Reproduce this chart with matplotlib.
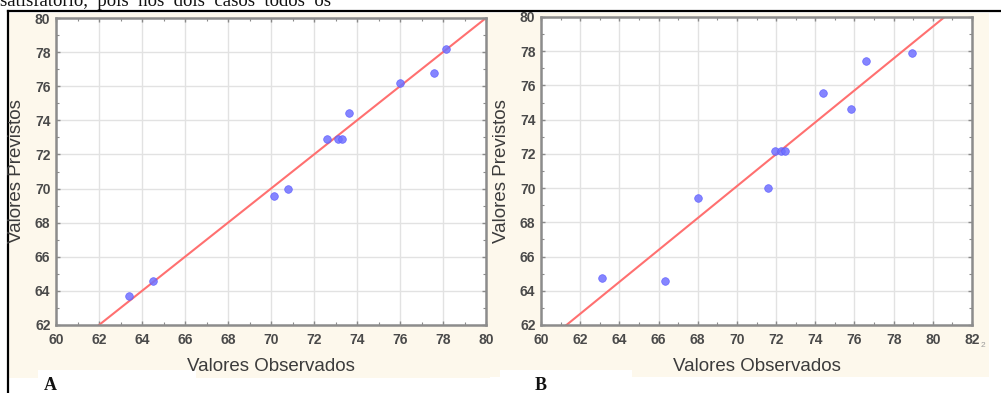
import matplotlib
matplotlib.use('Agg')
from matplotlib import pyplot as plt
from matplotlib.patches import Rectangle
from matplotlib.lines import Line2D
from matplotlib.ticker import MultipleLocator

W, H = 1001, 393

# panel A: observed vs predicted
obs_a = [63.4, 64.5, 70.15, 70.8, 72.6, 73.1, 73.3, 73.65, 76.0, 77.6, 78.15]
pred_a = [63.7, 64.6, 69.55, 70.0, 72.9, 72.9, 72.9, 74.45, 76.2, 76.8, 78.2]
fit_a_x = [62, 80]
fit_a_y = [62, 80]

# panel B
obs_b = [63.1, 66.35, 68.0, 71.6, 71.95, 72.25, 72.45, 74.4, 75.8, 76.6, 78.95]
pred_b = [64.75, 64.6, 69.4, 70.0, 72.15, 72.15, 72.15, 75.55, 74.65, 77.45, 77.9]
fit_b_x = [61.3, 80.6]
fit_b_y = [62, 80]

xlims = [(60, 80), (60, 82)]
ylim = (62, 80)
panel_labels = ['A', 'B']
xlabel = 'Valores Observados'
ylabel = 'Valores Previstos'
top_text = 'satisfatório,  pois  nos  dois  casos  todos  os'

BEIGE = '#fdf8ec'
TXT = '#3c3c3c'


def fx(x):
    return x / W


def fy(y):
    return 1 - y / H


def rect(fig, x0, y0, x1, y1, color):
    fig.add_artist(Rectangle((fx(x0), fy(y1)), fx(x1 - x0), (y1 - y0) / H,
                             transform=fig.transFigure, facecolor=color,
                             edgecolor='none', zorder=0))


fig = plt.figure(figsize=(W / 100, H / 100), dpi=100)
fig.patch.set_facecolor('white')

# scanned page backgrounds
rect(fig, 8, 13, 490, 378, BEIGE)
rect(fig, 490, 13, 989, 377, BEIGE)
rect(fig, 38, 370, 196, 393, 'white')
rect(fig, 500, 370, 632, 393, 'white')

# page rules
fig.add_artist(Line2D([fx(8), 1], [fy(11), fy(11)], color='black', lw=1.6,
                      transform=fig.transFigure))
fig.add_artist(Line2D([fx(7.5), fx(7.5)], [fy(11), 0], color='black', lw=1.6,
                      transform=fig.transFigure))

fig.text(0, fy(6), top_text, fontsize=13.5, family='Liberation Serif',
         va='baseline', ha='left', color='#111111')

boxes = [(56, 18, 486, 325), (541, 17, 972, 325)]
data = [(obs_a, pred_a, fit_a_x, fit_a_y), (obs_b, pred_b, fit_b_x, fit_b_y)]
ylabel_x = [17, 501]
plabel_x = [44, 535]

for i in range(2):
    x0, y0, x1, y1 = boxes[i]
    ax = fig.add_axes([fx(x0), fy(y1), fx(x1 - x0), (y1 - y0) / H])
    obs, pred, lx, ly = data[i]
    ax.plot(lx, ly, color='#ff7070', lw=1.5, zorder=2)
    ax.plot(obs, pred, 'o', color='#7070ff', ms=5.5, alpha=0.85, mec='#5a5aff',
            mew=0.5, zorder=3)
    ax.set_xlim(*xlims[i])
    ax.set_ylim(*ylim)
    ax.xaxis.set_major_locator(MultipleLocator(2))
    ax.yaxis.set_major_locator(MultipleLocator(2))
    ax.xaxis.set_minor_locator(MultipleLocator(1))
    ax.yaxis.set_minor_locator(MultipleLocator(1))
    ax.grid(True, which='major', color='#e2e2e2', lw=1)
    ax.set_axisbelow(True)
    ax.tick_params(which='both', direction='in', top=True, right=True,
                   color='#8a8a8a', labelsize=10, labelcolor='#4a4a4a')
    ax.tick_params(which='major', length=3, width=1)
    ax.tick_params(which='minor', length=2, width=0.8)
    ax.tick_params(axis='x', pad=6)
    ax.tick_params(axis='y', pad=4)
    for lab in ax.get_xticklabels() + ax.get_yticklabels():
        lab.set_family('Liberation Sans')
        lab.set_weight('bold')
    for sp in ax.spines.values():
        sp.set_color('#8c8c8c')
        sp.set_linewidth(1.8)
    ax.set_xlabel(xlabel, fontsize=13.5, color=TXT, family='Liberation Sans',
                  labelpad=8)
    fig.text(fx(ylabel_x[i]), fy(171), ylabel, rotation=90,
             fontsize=13.5, color=TXT, family='Liberation Sans',
             ha='center', va='center')
    fig.text(fx(plabel_x[i]), fy(390), panel_labels[i], fontsize=13,
             family='Liberation Serif', weight='bold', color='#111111',
             ha='left', va='baseline')

# small scan artefact next to the last tick of panel B
fig.text(fx(981), fy(347), '2', fontsize=6, color='#9a9a9a',
         family='Liberation Sans', ha='left', va='baseline')

fig.savefig('out.png', dpi=100)
